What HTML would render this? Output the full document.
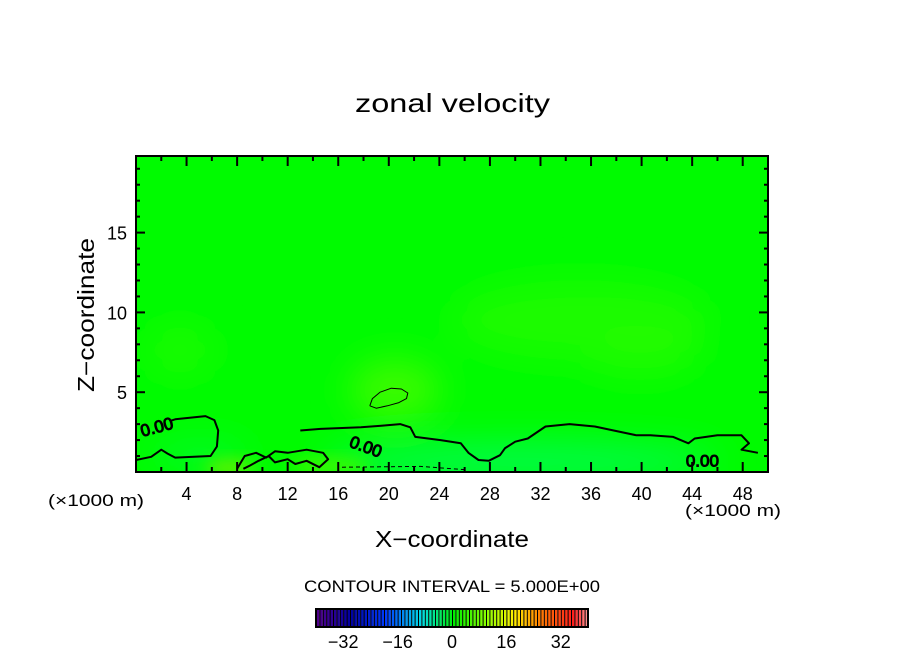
<!DOCTYPE html>
<html><head><meta charset="utf-8"><style>
html,body{margin:0;padding:0;background:#fff;}
svg text{font-family:"Liberation Sans","DejaVu Sans",sans-serif;fill:#000;}
</style></head><body>
<svg id="chart" width="904" height="654" viewBox="0 0 904 654" xmlns="http://www.w3.org/2000/svg">
<defs>
<filter id="blur" x="-50%" y="-50%" width="200%" height="200%"><feGaussianBlur stdDeviation="18"/></filter>
<filter id="blur2" x="-50%" y="-50%" width="200%" height="200%"><feGaussianBlur stdDeviation="8"/></filter>
<clipPath id="plotclip"><rect x="136" y="156" width="632" height="316"/></clipPath>
</defs>
<text x="355" y="112" font-size="26" textLength="195" lengthAdjust="spacingAndGlyphs">zonal velocity</text>
<g clip-path="url(#plotclip)">
<rect x="136" y="156" width="632" height="316" fill="#00fb00"/>
<g filter="url(#blur)">
<ellipse cx="580" cy="320" rx="130" ry="40" fill="#1efb00"/>
<ellipse cx="395" cy="390" rx="45" ry="30" fill="#3cfb00"/>
<ellipse cx="180" cy="350" rx="35" ry="25" fill="#1cfb00"/>
<ellipse cx="640" cy="350" rx="60" ry="25" fill="#24fb00"/>
<ellipse cx="520" cy="462" rx="200" ry="18" fill="#00fb50"/>
<ellipse cx="200" cy="455" rx="50" ry="12" fill="#10fb30"/>
</g>
<g filter="url(#blur2)">
<ellipse cx="230" cy="468" rx="25" ry="8" fill="#66f000"/>
<ellipse cx="330" cy="466" rx="40" ry="8" fill="#40f800"/>
</g>
</g>
<g id="contours" clip-path="url(#plotclip)" fill="none" stroke="#000"></g>
<rect x="136" y="156" width="632" height="316" fill="none" stroke="#000" stroke-width="2"/>
<g id="ticks" stroke="#000" stroke-width="2"></g>
<g id="labels"></g>
<text x="48" y="506" font-size="17" textLength="96" lengthAdjust="spacingAndGlyphs">(×1000 m)</text>
<text x="685" y="516" font-size="17" textLength="96" lengthAdjust="spacingAndGlyphs">(×1000 m)</text>
<text x="375" y="547" font-size="23" textLength="154" lengthAdjust="spacingAndGlyphs">X−coordinate</text>
<text transform="translate(94,392) rotate(-90)" font-size="23" textLength="154" lengthAdjust="spacingAndGlyphs">Z−coordinate</text>
<text x="304" y="592" font-size="17" textLength="296" lengthAdjust="spacingAndGlyphs">CONTOUR INTERVAL = 5.000E+00</text>
<g id="colorbar"></g>
</svg>
<script>
const xTicks=[4,8,12,16,20,24,28,32,36,40,44,48];
const yTicks=[5,10,15];
const cbTicks=[-32,-16,0,16,32];
const xDomain=[0,50], yDomain=[0,19.8], cbDomain=[-40,40];
// zero contour (data coords, km)
const contourLeftX=[0,1.2,2.0,2.5,3.1,5.9,6.4,6.5,6.2,5.5,3.1,2.7];
const contourLeftZ=[0.75,0.95,1.4,1.15,0.9,1.0,1.6,2.6,3.25,3.5,3.3,3.2];
const contourMidX=[13.0,14.6,17.8,19.4,20.9,21.7,22.1,24.1,25.7,26.3,27.1,27.9,28.8,29.2,30.0,31.0,32.4,34.3,36.3,38.4,39.6,40.7,42.5,43.7,44.2,46.0,47.9,48.5,47.9,49.2];
const contourMidZ=[2.6,2.7,2.8,2.9,3.0,2.8,2.2,2.0,1.8,1.2,0.75,0.7,1.05,1.5,1.9,2.1,2.85,3.0,2.85,2.5,2.3,2.3,2.2,1.8,2.1,2.3,2.3,1.8,1.4,1.2];
const contourB1X=[8.0,8.6,9.5,10.3,11.0,12.0,13.5,14.8,15.2,14.5,13.5,12.6,12.0,11.0,10.5,9.7,9.0,8.5];
const contourB1Z=[0.2,1.0,1.2,0.9,1.3,1.2,1.4,1.2,0.8,0.3,0.7,0.5,0.8,0.6,1.0,0.7,0.4,0.2];
const ellipseX=[18.5,18.7,19.3,20.2,21.0,21.5,21.4,20.8,19.9,19.0,18.5];
const ellipseZ=[4.15,4.6,5.0,5.25,5.2,4.95,4.6,4.35,4.15,4.0,4.15];
const dashX=[16.3,22.5,26.0];
const dashZ=[0.3,0.35,0.15];
const colorLevels=[];
for(let v=-40;v<40;v+=1) colorLevels.push(v);

const sx=v=>136+(v-xDomain[0])/(xDomain[1]-xDomain[0])*632;
const sy=v=>472-(v-yDomain[0])/(yDomain[1]-yDomain[0])*316;
const cx=v=>316+(v-cbDomain[0])/(cbDomain[1]-cbDomain[0])*272;
const NS='http://www.w3.org/2000/svg';
function mk(tag,parent,attrs){const e=document.createElementNS(NS,tag);for(const k in attrs)e.setAttribute(k,attrs[k]);parent.appendChild(e);return e;}

const cg=document.getElementById('contours');
function poly(xs,zs,name,w,dash){
  const d=xs.map((x,i)=>(i?'L':'M')+sx(x).toFixed(1)+' '+sy(zs[i]).toFixed(1)).join(' ');
  const p=mk('path',cg,{d:d,'stroke-width':w,'stroke-linejoin':'round'});
  if(dash)p.setAttribute('stroke-dasharray',dash);
  
  
}
poly(contourLeftX,contourLeftZ,'zero-contour-left',2);
poly(contourMidX,contourMidZ,'zero-contour-main',2);
poly(contourB1X,contourB1Z,'zero-contour-blobs',2);
poly(ellipseX,ellipseZ,'positive-contour-ellipse',1);
poly(dashX,dashZ,'negative-contour-dashed',1,'4 3');
const lbls=[[0.5,2.2,-15],[16.8,1.6,20],[43.5,0.35,0]];
lbls.forEach(l=>{
  const t=mk('text',cg,{x:sx(l[0]),y:sy(l[1]),'font-size':17,transform:`rotate(${l[2]} ${sx(l[0])} ${sy(l[1])})`});
  t.textContent='0.00';
  
  
});

const tg=document.getElementById('ticks'), lg=document.getElementById('labels');
for(let v=2;v<50;v+=2){
  const major=v%4===0, len=major?10:5, x=sx(v);
  const a=mk('line',tg,{x1:x,x2:x,y1:472,y2:472-len});
  
  
  const b=mk('line',tg,{x1:x,x2:x,y1:156,y2:156+len});
  
  
}
for(let v=1;v<20;v+=1){
  const major=v%5===0, len=major?9:4, y=sy(v);
  const a=mk('line',tg,{x1:136,x2:136+len,y1:y,y2:y});
  
  
  const b=mk('line',tg,{x1:768,x2:768-len,y1:y,y2:y});
  
  
}
xTicks.forEach(v=>{
  const t=mk('text',lg,{x:sx(v),y:500,'font-size':18,'text-anchor':'middle'});
  t.textContent=v;
  
  
});
yTicks.forEach(v=>{
  const t=mk('text',lg,{x:127,y:sy(v)+7,'font-size':18,'text-anchor':'end'});
  t.textContent=v;
  
  
});

function cmap(v){
  const t=(v+40)/80;
  const stops=[[0,[80,0,140]],[0.12,[0,0,160]],[0.25,[0,60,255]],[0.38,[0,220,230]],[0.5,[0,240,0]],[0.62,[140,255,0]],[0.72,[255,240,0]],[0.82,[255,120,0]],[0.94,[255,30,30]],[1,[255,170,170]]];
  for(let i=1;i<stops.length;i++){if(t<=stops[i][0]){const a=stops[i-1],b=stops[i],f=(t-a[0])/(b[0]-a[0]);return 'rgb('+a[1].map((c,j)=>Math.round(c+(b[1][j]-c)*f)).join(',')+')';}}
  return 'rgb(255,170,170)';
}
const cb=document.getElementById('colorbar');
colorLevels.forEach(v=>{
  const r=mk('rect',cb,{x:cx(v),y:609,width:cx(v+1)-cx(v),height:18,fill:cmap(v)});
  
  
  const l=mk('line',cb,{x1:cx(v)+0.5,x2:cx(v)+0.5,y1:609,y2:627,stroke:'#000','stroke-width':1});
  
  
});
const fr=mk('rect',cb,{x:316,y:609,width:272,height:18,fill:'none',stroke:'#000','stroke-width':2});


cbTicks.forEach(v=>{
  const t=mk('text',cb,{x:cx(v),y:648,'font-size':18,'text-anchor':'middle'});
  t.textContent=v<0?'−'+Math.abs(v):v;
  
  
});
</script>
</body></html>
